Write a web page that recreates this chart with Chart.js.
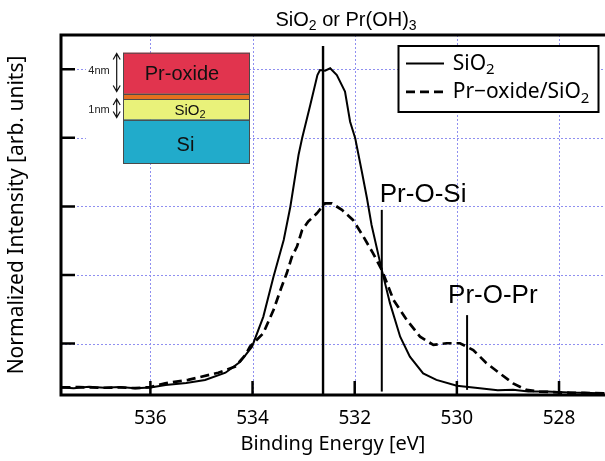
<!DOCTYPE html>
<html lang="en">
<head>
<meta charset="UTF-8">
<title>O 1s spectra: SiO2 vs Pr-oxide/SiO2</title>
<script src="https://cdn.jsdelivr.net/npm/chart.js@4.4.3/dist/chart.umd.min.js"></script>
<style>
  html, body { margin: 0; padding: 0; background: #fff; }
  #xps { display: block; }
</style>
</head>
<body>
<canvas id="xps" width="605" height="461"></canvas>
<script>
// O 1s spectra (binding energy in eV, normalized intensity)
const sio2Energy = [537.74, 537.5, 537.2, 536.9, 536.6, 536.3, 536.0, 535.7, 535.3, 534.93, 534.53, 534.24, 534.01,
  533.79, 533.59, 533.39, 533.26, 533.10, 533.03, 532.87, 532.73, 532.68, 532.58, 532.48, 532.35, 532.19, 532.09,
  531.99, 531.86, 531.76, 531.67, 531.47, 531.31, 531.11, 530.92, 530.66, 530.40, 530.00, 529.55, 529.2, 528.90,
  528.6, 528.25, 527.8, 527.4, 527.11];
const sio2Intensity = [0.072, 0.070, 0.074, 0.071, 0.073, 0.070, 0.072, 0.079, 0.085, 0.094, 0.115, 0.147, 0.191,
  0.278, 0.395, 0.502, 0.599, 0.750, 0.799, 0.896, 0.983, 0.998, 0.996, 1.003, 0.983, 0.935, 0.847,
  0.799, 0.701, 0.624, 0.546, 0.415, 0.318, 0.220, 0.162, 0.113, 0.094, 0.077, 0.070, 0.064, 0.065,
  0.060, 0.060, 0.057, 0.056, 0.055];

const proxEnergy = [537.74, 537.4, 537.0, 536.6, 536.3, 536.0, 535.71, 535.26, 534.67, 534.34, 534.14, 534.05,
  533.79, 533.59, 533.43, 533.33, 533.23, 533.13, 533.03, 532.91, 532.74, 532.58, 532.45, 532.25, 532.03, 531.83,
  531.64, 531.47, 531.24, 530.98, 530.72, 530.46, 530.20, 529.94, 529.68, 529.42, 529.16, 528.90, 528.64, 528.38,
  527.92, 527.5, 527.11];
const proxIntensity = [0.072, 0.073, 0.071, 0.072, 0.070, 0.073, 0.084, 0.094, 0.115, 0.133, 0.167, 0.191,
  0.230, 0.298, 0.366, 0.405, 0.453, 0.483, 0.531, 0.556, 0.580, 0.609, 0.609, 0.590, 0.560, 0.512,
  0.463, 0.415, 0.327, 0.269, 0.220, 0.196, 0.201, 0.201, 0.181, 0.143, 0.113, 0.084, 0.065, 0.060,
  0.057, 0.056, 0.055];

const seriesNames = ['SiO₂', 'Pr−oxide/SiO₂'];

const xTicks = [528, 530, 532, 534, 536];
const yTicks = [0.2, 0.4, 0.6, 0.8, 1.0];

// vertical peak markers
const markerEnergy = [532.62, 531.47, 529.80];
const markerTop = [1.068, 0.59, 0.283];
const markerBottom = [0.05, 0.06, 0.065];
const markerNames = ['SiO₂ or Pr(OH)₃', 'Pr-O-Si', 'Pr-O-Pr'];

const SANS = '"Liberation Sans", Arial, sans-serif';
const NOTO = '"Noto Sans", "Liberation Sans", sans-serif';

// draws text where unicode subscript digits become small lowered digits
const SUBS = '₀₁₂₃₄₅₆₇₈₉';
function drawRich(ctx, text, x, y, size, family, align) {
  const runs = [];
  for (const ch of text) {
    const k = SUBS.indexOf(ch);
    const sub = k >= 0;
    const c = sub ? String(k) : ch;
    const last = runs[runs.length - 1];
    if (last && last.sub === sub) last.t += c;
    else runs.push({ t: c, sub: sub });
  }
  const subSize = Math.round(size * 0.7);
  let w = 0;
  runs.forEach(r => {
    ctx.font = (r.sub ? subSize : size) + 'px ' + family;
    r.w = ctx.measureText(r.t).width;
    w += r.w;
  });
  let cx = align === 'center' ? x - w / 2 : x;
  ctx.textAlign = 'left';
  ctx.textBaseline = 'alphabetic';
  runs.forEach(r => {
    ctx.font = (r.sub ? subSize : size) + 'px ' + family;
    ctx.fillText(r.t, cx, r.sub ? y + size * 0.2 : y);
    cx += r.w;
  });
}

function doubleArrow(ctx, x, y1, y2) {
  ctx.beginPath();
  ctx.moveTo(x, y1); ctx.lineTo(x, y2);
  ctx.moveTo(x - 3.5, y1 + 6); ctx.lineTo(x, y1); ctx.lineTo(x + 3.5, y1 + 6);
  ctx.moveTo(x - 3.5, y2 - 6); ctx.lineTo(x, y2); ctx.lineTo(x + 3.5, y2 - 6);
  ctx.stroke();
}

// layer stack sketch in the top-left corner
function drawInset(ctx) {
  ctx.save();
  ctx.fillStyle = '#fff';
  ctx.fillRect(86, 50, 38, 116);
  const L = 123, R = 250;
  const layers = [
    [52.7, 93.8, '#e1344e'],
    [93.8, 99, '#e5701f'],
    [99, 119.7, '#e9f27a'],
    [119.7, 163, '#21abcb']
  ];
  layers.forEach(([t, b, c]) => {
    ctx.fillStyle = c;
    ctx.fillRect(L, t, R - L, b - t);
  });
  ctx.strokeStyle = '#4a4a4a';
  ctx.lineWidth = 1;
  layers.forEach(([t, b]) => ctx.strokeRect(L + 0.5, t + 0.5, R - L - 1, b - t));

  ctx.fillStyle = '#111';
  ctx.font = '20px ' + SANS;
  ctx.textAlign = 'center';
  ctx.textBaseline = 'alphabetic';
  ctx.fillText('Pr-oxide', 182, 80);
  ctx.fillText('Si', 185.5, 150.5);
  drawRich(ctx, 'SiO₂', 190, 115, 15, SANS, 'center');

  ctx.font = '11px "Liberation Sans Narrow", ' + SANS;
  ctx.textAlign = 'center';
  ctx.fillStyle = '#222';
  ctx.fillText('4nm', 99, 74);
  ctx.fillText('1nm', 99, 113);
  ctx.strokeStyle = '#111';
  ctx.lineWidth = 1.2;
  doubleArrow(ctx, 116.7, 53.5, 91.5);
  doubleArrow(ctx, 116.7, 99, 117.5);
  ctx.restore();
}

const decorPlugin = {
  id: 'decor',
  beforeDatasetsDraw(chart) {
    const { ctx, chartArea: a, scales: { x, y } } = chart;
    ctx.save();
    ctx.strokeStyle = '#8f8ff0';
    ctx.lineWidth = 1;
    ctx.setLineDash([2, 2]);
    ctx.beginPath();
    xTicks.forEach(v => {
      const px = Math.round(x.getPixelForValue(v)) + 0.5;
      ctx.moveTo(px, a.top); ctx.lineTo(px, a.bottom);
    });
    yTicks.forEach(v => {
      const py = Math.round(y.getPixelForValue(v)) + 0.5;
      ctx.moveTo(a.left, py); ctx.lineTo(a.right, py);
    });
    ctx.stroke();
    ctx.restore();
  },
  afterDatasetsDraw(chart) {
    const { ctx, chartArea: a, scales: { x, y } } = chart;
    ctx.save();
    // frame (right side is cut off in the original)
    ctx.strokeStyle = '#000';
    ctx.lineWidth = 3;
    ctx.beginPath();
    ctx.moveTo(a.right + 2, a.top); ctx.lineTo(a.left, a.top);
    ctx.lineTo(a.left, a.bottom); ctx.lineTo(a.right + 2, a.bottom);
    ctx.stroke();
    // inward ticks
    ctx.lineWidth = 2.5;
    ctx.beginPath();
    yTicks.forEach(v => {
      const py = y.getPixelForValue(v);
      ctx.moveTo(a.left, py); ctx.lineTo(a.left + 14, py);
    });
    xTicks.forEach(v => {
      const px = x.getPixelForValue(v);
      ctx.moveTo(px, a.bottom); ctx.lineTo(px, a.bottom - 14);
    });
    ctx.stroke();

    // marker labels
    ctx.fillStyle = '#000';
    const m0 = x.getPixelForValue(markerEnergy[0]);
    drawRich(ctx, markerNames[0], m0 + 23, 26, 20, SANS, 'center');
    const m1 = x.getPixelForValue(markerEnergy[1]);
    drawRich(ctx, markerNames[1], m1 - 2, y.getPixelForValue(markerTop[1]) - 8, 26, SANS, 'left');
    const m2 = x.getPixelForValue(markerEnergy[2]);
    drawRich(ctx, markerNames[2], m2 - 19, y.getPixelForValue(markerTop[2]) - 12, 26, SANS, 'left');

    drawInset(ctx);

    // legend box
    const bx = 398.5, by = 46, bw = 200, bh = 66;
    ctx.fillStyle = '#fff';
    ctx.fillRect(bx, by, bw, bh);
    ctx.strokeStyle = '#000';
    ctx.lineWidth = 2;
    ctx.strokeRect(bx, by, bw, bh);
    [0, 1].forEach(i => {
      const ds = chart.data.datasets[i];
      const ly = 63.5 + i * 28.4;
      ctx.save();
      ctx.lineWidth = ds.borderWidth;
      ctx.setLineDash(ds.borderDash || []);
      ctx.beginPath();
      ctx.moveTo(406, ly); ctx.lineTo(444, ly);
      ctx.stroke();
      ctx.restore();
      ctx.fillStyle = '#000';
      drawRich(ctx, ds.label, 452.7, ly + 6.5, 21, NOTO, 'left');
    });
    ctx.restore();
  }
};

const toPoints = (xs, ys) => xs.map((e, i) => ({ x: e, y: ys[i] }));

new Chart(document.getElementById('xps'), {
  type: 'line',
  data: {
    datasets: [
      { label: seriesNames[0], data: toPoints(sio2Energy, sio2Intensity),
        borderColor: '#000', borderWidth: 2, pointRadius: 0, tension: 0, fill: false },
      { label: seriesNames[1], data: toPoints(proxEnergy, proxIntensity),
        borderColor: '#000', borderWidth: 2.7, borderDash: [9, 5], pointRadius: 0, tension: 0, fill: false },
      ...markerEnergy.map((e, i) => ({
        label: markerNames[i],
        data: [{ x: e, y: markerBottom[i] }, { x: e, y: markerTop[i] }],
        borderColor: '#000', borderWidth: i === 0 ? 2.4 : 2, pointRadius: 0, fill: false
      }))
    ]
  },
  options: {
    responsive: false,
    animation: false,
    devicePixelRatio: 1,
    layout: { padding: { top: 35, left: 0, right: 0, bottom: 0 } },
    plugins: { legend: { display: false }, tooltip: { enabled: false } },
    scales: {
      x: {
        type: 'linear', reverse: true, min: 527.1, max: 537.75,
        afterBuildTicks: s => { s.ticks = xTicks.map(v => ({ value: v })); },
        afterFit: s => { s.height = 66; },
        grid: { display: false, drawTicks: false },
        border: { display: false },
        ticks: { color: '#000', padding: 12, maxRotation: 0, autoSkip: false, font: { family: NOTO, size: 19 } },
        title: { display: true, text: 'Binding Energy [eV]', color: '#000',
          font: { family: NOTO, size: 20 }, padding: { top: 0, bottom: 5 } }
      },
      y: {
        type: 'linear', min: 0.05, max: 1.1,
        afterBuildTicks: s => { s.ticks = yTicks.map(v => ({ value: v })); },
        afterFit: s => { s.width = 61; },
        grid: { display: false, drawTicks: false },
        border: { display: false },
        ticks: { display: false },
        title: { display: true, text: 'Normalized Intensity [arb. units]', color: '#000',
          font: { family: NOTO, size: 21 }, padding: { top: 4, bottom: 0 } }
      }
    }
  },
  plugins: [decorPlugin]
});
</script>
</body>
</html>
